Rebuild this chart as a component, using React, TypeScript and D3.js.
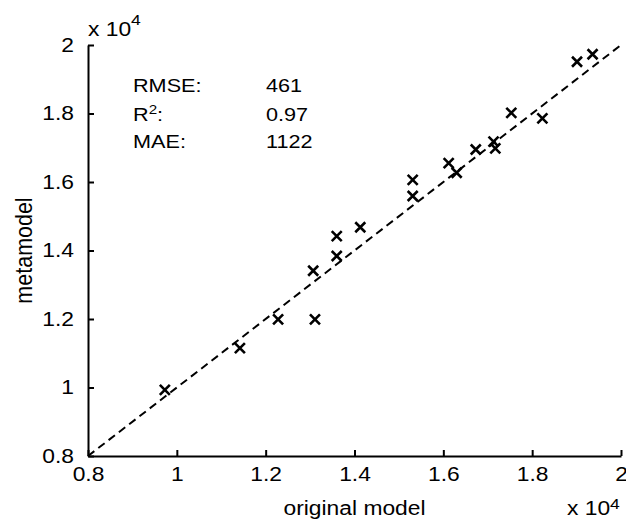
import { useEffect, useRef } from 'react'
import * as d3 from 'd3'

// values in units of 1e4
const original = [0.973, 1.142, 1.228, 1.311, 1.307, 1.36, 1.36, 1.413, 1.531, 1.531, 1.612, 1.63, 1.673, 1.713, 1.717, 1.753, 1.823, 1.901, 1.936]
const metamodel = [0.993, 1.115, 1.199, 1.199, 1.341, 1.384, 1.442, 1.468, 1.606, 1.559, 1.655, 1.627, 1.695, 1.718, 1.698, 1.802, 1.786, 1.951, 1.973]
const ticks = [0.8, 1, 1.2, 1.4, 1.6, 1.8, 2]
const statNames = ['RMSE:', 'R', 'MAE:']
const statValues = ['461', '0.97', '1122']

const FONT = '"Liberation Sans", Arial, sans-serif'
const SX = 1.17 // the source picture is a bit stretched sideways

export default function App() {
  const svgRef = useRef<SVGSVGElement>(null)

  useEffect(() => {
    if (!svgRef.current) return
    document.body.style.margin = '0'
    const svg = d3.select(svgRef.current)
    svg.selectAll('*').remove()

    const W = 626, H = 524
    const m = { top: 45, right: 5, bottom: 68, left: 88 }
    svg.attr('width', W).attr('height', H)

    const x = d3.scaleLinear().domain([0.8, 2]).range([m.left, W - m.right])
    const y = d3.scaleLinear().domain([0.8, 2]).range([H - m.bottom, m.top])

    const fmt = (d: number) => d3.format('~g')(d)

    // text helper with horizontal stretch
    const label = (px: number, py: number, size: number, anchor = 'start') =>
      svg.append('text')
        .attr('transform', `translate(${px},${py}) scale(${SX},1)`)
        .attr('text-anchor', anchor).attr('font-size', size)
        .attr('font-family', FONT).attr('fill', '#000')

    // x axis
    const xa = svg.append('g').attr('transform', `translate(0,${H - m.bottom})`)
      .call(d3.axisBottom(x).tickValues(ticks).tickSizeInner(-6).tickSizeOuter(0).tickPadding(11).tickFormat(fmt as any))
    xa.select('.domain').attr('stroke', '#000').attr('stroke-width', 2)
    xa.selectAll('line').attr('stroke', '#000').attr('stroke-width', 2)
    xa.selectAll('text').attr('fill', '#000').attr('font-size', 19.5).attr('font-family', FONT)
      .attr('transform', `scale(${SX},1)`)

    // y axis
    const ya = svg.append('g').attr('transform', `translate(${m.left},0)`)
      .call(d3.axisLeft(y).tickValues(ticks).tickSizeInner(-6).tickSizeOuter(0).tickPadding(14).tickFormat(fmt as any))
    ya.select('.domain').attr('stroke', '#000').attr('stroke-width', 2)
    ya.selectAll('line').attr('stroke', '#000').attr('stroke-width', 2)
    ya.selectAll('text').attr('fill', '#000').attr('font-size', 19.5).attr('font-family', FONT)
      .attr('x', -14 / SX).attr('transform', `scale(${SX},1)`)

    // y = x reference line
    svg.append('line')
      .attr('x1', x(0.8)).attr('y1', y(0.8)).attr('x2', x(2)).attr('y2', y(2))
      .attr('stroke', '#000').attr('stroke-width', 2).attr('stroke-dasharray', '8,5')

    // points
    const s = 5
    original.forEach((v, i) => {
      const cx = x(v), cy = y(metamodel[i])
      svg.append('path')
        .attr('d', `M${cx - s},${cy - s}L${cx + s},${cy + s}M${cx - s},${cy + s}L${cx + s},${cy - s}`)
        .attr('stroke', '#000').attr('stroke-width', 2.6).attr('fill', 'none')
    })

    // stats
    const rowY = [92, 121, 148]
    statNames.forEach((n, i) => {
      const t = label(133, rowY[i], 18.5)
      if (n === 'R') {
        t.append('tspan').text('R')
        t.append('tspan').attr('font-size', 13).attr('dy', -7).text('2')
        t.append('tspan').attr('dy', 7).text(':')
      } else {
        t.text(n)
      }
      label(266, rowY[i], 18.5).text(statValues[i])
    })

    // axis labels
    label((m.left + W - m.right) / 2, 515, 19.5, 'middle').text('original model')
    svg.append('text')
      .attr('transform', `translate(32,${(m.top + H - m.bottom) / 2}) rotate(-90) scale(1,1.08)`)
      .attr('text-anchor', 'middle').attr('font-size', 21.5).attr('font-family', FONT)
      .text('metamodel')

    // exponent labels
    const exp = (px: number, py: number, rise: number) => {
      const t = label(px, py, 19.5)
      t.append('tspan').text('x 10')
      t.append('tspan').attr('font-size', 15).attr('dy', -rise).text('4')
    }
    exp(88, 36, 11)
    exp(567, 515, 6)
  }, [])

  return <svg ref={svgRef} style={{ display: 'block' }} />
}
